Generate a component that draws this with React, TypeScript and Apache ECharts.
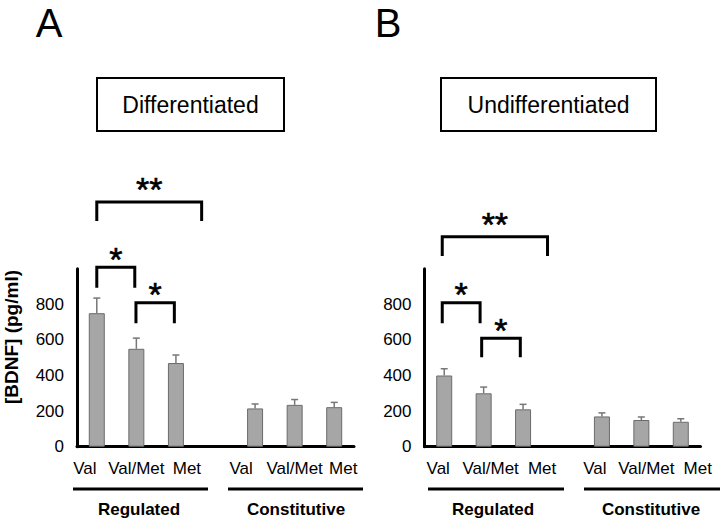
import React, { useEffect, useRef } from 'react';
import * as echarts from 'echarts';

const categories = ['Val', 'Val/Met', 'Met', '', 'Val', 'Val/Met', 'Met'];
const diffValues = [750, 550, 470, null, 215, 235, 222];
const diffErrors = [85, 60, 45, null, 25, 30, 27];
const undiffValues = [400, 300, 210, null, 170, 150, 140];
const undiffErrors = [38, 35, 28, null, 20, 17, 17];
const yMax = 1000;
const yStep = 200;
const groupNames = ['Regulated', 'Constitutive'];
const panelTitles = ['Differentiated', 'Undifferentiated'];
const panelLetters = ['A', 'B'];
const yAxisName = '[BDNF] (pg/ml)';

// significance brackets: [from category index, to category index, top value, leg bottom value, label]
const diffBrackets: [number, number, number, number, string][] = [
  [0, 2.65, 1375, 1268, '**'],
  [0, 0.96, 1008, 893, '*'],
  [0.99, 1.96, 809, 693, '*'],
];
const undiffBrackets: [number, number, number, number, string][] = [
  [-0.05, 2.62, 1180, 1071, '**'],
  [-0.05, 0.91, 809, 693, '*'],
  [0.95, 1.93, 609, 502, '*'],
];

const FONT = "'Liberation Sans', Arial, Helvetica, sans-serif";

// label x shifts (px) so category text sits as in the figure
const labelShifts = [
  [-12, 0, 11, 0, -14, 0, 9],
  [-6, 7, 19, 0, -7, 5, 17],
];

function makeRich(shifts: number[]) {
  const rich: Record<string, any> = {};
  shifts.forEach((d, i) => {
    rich['s' + i] = {
      fontSize: 17,
      fontFamily: FONT,
      color: '#000',
      padding: d >= 0 ? [0, 0, 0, 2 * d] : [0, -2 * d, 0, 0],
    };
  });
  return rich;
}

function bracketSeries(brackets: [number, number, number, number, string][], idx: number) {
  return {
    type: 'custom',
    xAxisIndex: idx,
    yAxisIndex: idx,
    clip: false,
    silent: true,
    z: 5,
    data: brackets.map((b) => [0, b[2]]),
    encode: { x: 0, y: 1 },
    renderItem: (params: any, api: any) => {
      const b = brackets[params.dataIndex];
      const x0 = api.coord([0, 0])[0];
      const step = api.coord([1, 0])[0] - x0;
      const x1 = x0 + b[0] * step;
      const x2 = x0 + b[1] * step;
      const yTop = api.coord([0, b[2]])[1];
      const yLeg = api.coord([0, b[3]])[1];
      const lift = b[4] === '**' ? 21 : 17;
      return {
        type: 'group',
        children: [
          {
            type: 'polyline',
            shape: { points: [[x1, yLeg], [x1, yTop], [x2, yTop], [x2, yLeg]] },
            style: { stroke: '#000', lineWidth: 3, fill: 'none' },
          },
          {
            type: 'text',
            style: {
              text: b[4],
              x: (x1 + x2) / 2,
              y: yTop - lift + 8.3,
              align: 'center',
              verticalAlign: 'middle',
              fontSize: 34,
              fontFamily: FONT,
              fill: '#000',
              stroke: '#000',
              lineWidth: 0.6,
            },
          },
        ],
      };
    },
  };
}

function errorSeries(values: (number | null)[], errors: (number | null)[], idx: number) {
  const data: number[][] = [];
  values.forEach((v, i) => {
    if (v != null && errors[i] != null) data.push([i, v, errors[i] as number]);
  });
  return {
    type: 'custom',
    xAxisIndex: idx,
    yAxisIndex: idx,
    silent: true,
    z: 4,
    data,
    encode: { x: 0, y: 1 },
    renderItem: (params: any, api: any) => {
      const i = api.value(0);
      const v = api.value(1);
      const e = api.value(2);
      const p = api.coord([i, v]);
      const q = api.coord([i, v + e]);
      return {
        type: 'group',
        children: [
          {
            type: 'line',
            shape: { x1: p[0], y1: p[1], x2: q[0], y2: q[1] },
            style: { stroke: '#777', lineWidth: 1.5 },
          },
          {
            type: 'line',
            shape: { x1: q[0] - 3.5, y1: q[1], x2: q[0] + 3.5, y2: q[1] },
            style: { stroke: '#777', lineWidth: 1.5 },
          },
        ],
      };
    },
  };
}

export default function App() {
  const ref = useRef<HTMLDivElement>(null);
  useEffect(() => {
    document.body.style.margin = '0';
    if (!ref.current) return;
    const chart = echarts.init(ref.current, undefined, { renderer: 'svg' });

    const grids = [
      { left: 77, top: 268.7, width: 277, height: 178 },
      { left: 424.5, top: 268.7, width: 276, height: 178 },
    ];

    const xAxes = [0, 1].map((g) => ({
      type: 'category',
      gridIndex: g,
      data: categories,
      boundaryGap: true,
      axisLine: { show: true, lineStyle: { color: '#000', width: 3 } },
      axisTick: { show: false },
      axisLabel: {
        interval: 0,
        margin: 13,
        formatter: (v: string, i: number) => (v ? `{s${i}|${v}}` : ''),
        rich: makeRich(labelShifts[g]),
      },
    }));

    const yAxes = [0, 1].map((g) => ({
      type: 'value',
      gridIndex: g,
      min: 0,
      max: yMax,
      interval: yStep,
      axisLine: { show: true, lineStyle: { color: '#000', width: 3 } },
      axisTick: { show: false },
      splitLine: { show: false },
      axisLabel: {
        fontSize: 17,
        fontFamily: FONT,
        color: '#000',
        margin: 13,
        formatter: (v: number) => (v >= yMax ? '' : String(v)),
      },
    }));

    const barStyle = { color: '#a6a6a6', borderColor: '#6b6b6b', borderWidth: 1 };

    const line = (x1: number, x2: number, y: number) => ({
      type: 'line',
      shape: { x1, y1: y, x2, y2: y },
      style: { stroke: '#000', lineWidth: 3 },
    });
    const txt = (text: string, x: number, y: number, size: number, weight = 'normal', extra: any = {}) => ({
      type: 'text',
      x,
      y,
      ...extra,
      style: {
        text,
        fontSize: size,
        fontWeight: weight,
        fontFamily: FONT,
        fill: '#000',
        align: 'center',
        verticalAlign: 'middle',
      },
    });

    chart.setOption({
      animation: false,
      backgroundColor: '#fff',
      grid: grids,
      xAxis: xAxes,
      yAxis: yAxes,
      series: [
        {
          type: 'bar',
          xAxisIndex: 0,
          yAxisIndex: 0,
          barWidth: 16,
          itemStyle: barStyle,
          data: diffValues,
        },
        {
          type: 'bar',
          xAxisIndex: 1,
          yAxisIndex: 1,
          barWidth: 16,
          itemStyle: barStyle,
          data: undiffValues,
        },
        errorSeries(diffValues, diffErrors, 0),
        errorSeries(undiffValues, undiffErrors, 1),
        bracketSeries(diffBrackets, 0),
        bracketSeries(undiffBrackets, 1),
      ],
      graphic: [
        txt(panelLetters[0], 49, 23, 40),
        txt(panelLetters[1], 388, 23, 40),
        {
          type: 'rect',
          shape: { x: 97, y: 78, width: 187, height: 53 },
          style: { stroke: '#000', lineWidth: 2, fill: 'none' },
        },
        {
          type: 'rect',
          shape: { x: 441, y: 78, width: 215, height: 53 },
          style: { stroke: '#000', lineWidth: 2, fill: 'none' },
        },
        txt(panelTitles[0], 190.5, 104.5, 23),
        txt(panelTitles[1], 548.5, 104.5, 23),
        txt(yAxisName, 11.5, 337, 19, 'bold', { rotation: Math.PI / 2 }),
        line(73, 208, 489),
        line(228, 363, 489),
        line(428, 564, 489),
        line(584, 722, 489),
        txt(groupNames[0], 139, 509, 17, 'bold'),
        txt(groupNames[1], 296, 509, 17, 'bold'),
        txt(groupNames[0], 493, 509, 17, 'bold'),
        txt(groupNames[1], 651, 509, 17, 'bold'),
      ],
    });
    return () => chart.dispose();
  }, []);
  return <div ref={ref} style={{ width: 720, height: 521 }} />;
}
